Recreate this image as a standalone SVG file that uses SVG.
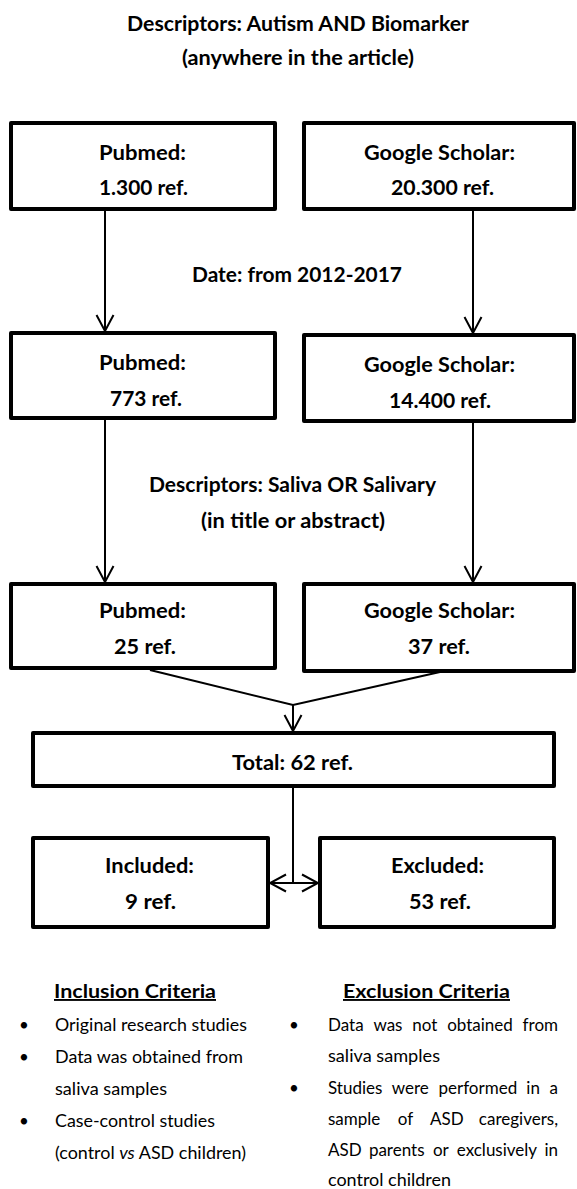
<svg xmlns="http://www.w3.org/2000/svg" width="577" height="1189" viewBox="0 0 577 1189">
<style>
.box{fill:#fff;stroke:#000;stroke-width:4;stroke-linejoin:round}
.b{font-family:Lato,"Liberation Sans",sans-serif;font-weight:bold;font-size:20px;fill:#000;text-anchor:middle}
.r{font-family:Lato,"Liberation Sans",sans-serif;font-size:17px;fill:#000}
.h{font-family:Lato,"Liberation Sans",sans-serif;font-weight:bold;font-size:19px;fill:#000;text-decoration:underline}
.c{fill:none;stroke:#000;stroke-width:2}
</style>
<defs>
<marker id="ah" viewBox="0 0 20 20" refX="18" refY="10" markerWidth="20" markerHeight="20" markerUnits="userSpaceOnUse" orient="auto-start-reverse">
<path d="M2,1.5 L18,10 L2,18.5" fill="none" stroke="#000" stroke-width="2"/>
</marker>
</defs>
<rect width="577" height="1189" fill="#fff"/>
<g id="title">
<text class="b" x="298" y="31" textLength="342" lengthAdjust="spacingAndGlyphs">Descriptors: Autism AND Biomarker</text>
<text class="b" x="298" y="65" textLength="232" lengthAdjust="spacingAndGlyphs">(anywhere in the article)</text>
</g>
<g id="connectors">
<line class="c" x1="105" y1="211" x2="105" y2="331" marker-end="url(#ah)"/>
<line class="c" x1="473" y1="210" x2="473" y2="333" marker-end="url(#ah)"/>
<line class="c" x1="105" y1="420" x2="105" y2="582" marker-end="url(#ah)"/>
<line class="c" x1="473" y1="423" x2="473" y2="582" marker-end="url(#ah)"/>
<polyline class="c" points="150,670 293,705 440,672"/>
<line class="c" x1="293" y1="705" x2="293" y2="731" marker-end="url(#ah)"/>
<line class="c" x1="293" y1="788" x2="293" y2="883"/>
<line class="c" x1="270" y1="883" x2="318" y2="883" marker-start="url(#ah)" marker-end="url(#ah)"/>
</g>
<g id="label-date">
<text class="b" x="297" y="282" textLength="210" lengthAdjust="spacingAndGlyphs">Date: from 2012-2017</text>
</g>
<g id="label-saliva">
<text class="b" x="292.5" y="492" textLength="287" lengthAdjust="spacingAndGlyphs">Descriptors: Saliva OR Salivary</text>
<text class="b" x="293" y="528" textLength="184" lengthAdjust="spacingAndGlyphs">(in title or abstract)</text>
</g>
<g id="pubmed1">
<rect class="box" x="11" y="123" width="264" height="86"/>
<text class="b" x="142.5" y="160" textLength="87" lengthAdjust="spacingAndGlyphs">Pubmed:</text>
<text class="b" x="143.5" y="195" textLength="89" lengthAdjust="spacingAndGlyphs">1.300 ref.</text>
</g>
<g id="scholar1">
<rect class="box" x="304" y="123" width="270" height="86"/>
<text class="b" x="439.5" y="160" textLength="151" lengthAdjust="spacingAndGlyphs">Google Scholar:</text>
<text class="b" x="442.5" y="195" textLength="103" lengthAdjust="spacingAndGlyphs">20.300 ref.</text>
</g>
<g id="pubmed2">
<rect class="box" x="11" y="333" width="264" height="85"/>
<text class="b" x="142.5" y="370" textLength="87" lengthAdjust="spacingAndGlyphs">Pubmed:</text>
<text class="b" x="146" y="406" textLength="72" lengthAdjust="spacingAndGlyphs">773 ref.</text>
</g>
<g id="scholar2">
<rect class="box" x="304" y="335" width="270" height="86"/>
<text class="b" x="439.5" y="372" textLength="151" lengthAdjust="spacingAndGlyphs">Google Scholar:</text>
<text class="b" x="440" y="408" textLength="102" lengthAdjust="spacingAndGlyphs">14.400 ref.</text>
</g>
<g id="pubmed3">
<rect class="box" x="11" y="584" width="264" height="84"/>
<text class="b" x="142.5" y="618" textLength="87" lengthAdjust="spacingAndGlyphs">Pubmed:</text>
<text class="b" x="145" y="654" textLength="62" lengthAdjust="spacingAndGlyphs">25 ref.</text>
</g>
<g id="scholar3">
<rect class="box" x="304" y="584" width="270" height="87"/>
<text class="b" x="439.5" y="618" textLength="151" lengthAdjust="spacingAndGlyphs">Google Scholar:</text>
<text class="b" x="439" y="654" textLength="62" lengthAdjust="spacingAndGlyphs">37 ref.</text>
</g>
<g id="total">
<rect class="box" x="33" y="733" width="521" height="53"/>
<text class="b" x="292.5" y="770" textLength="121" lengthAdjust="spacingAndGlyphs">Total: 62 ref.</text>
</g>
<g id="included">
<rect class="box" x="33" y="838" width="235" height="89"/>
<text class="b" x="149.5" y="873" textLength="89" lengthAdjust="spacingAndGlyphs">Included:</text>
<text class="b" x="150.5" y="909" textLength="51" lengthAdjust="spacingAndGlyphs">9 ref.</text>
</g>
<g id="excluded">
<rect class="box" x="320" y="838" width="234" height="89"/>
<text class="b" x="437.5" y="873" textLength="93" lengthAdjust="spacingAndGlyphs">Excluded:</text>
<text class="b" x="440" y="909" textLength="62" lengthAdjust="spacingAndGlyphs">53 ref.</text>
</g>
<g id="inclusion-criteria">
<text class="h" x="54" y="998" textLength="162" lengthAdjust="spacingAndGlyphs">Inclusion Criteria</text>
<text class="r" x="24" y="1031" text-anchor="middle">•</text>
<text class="r" x="55" y="1031" textLength="192" lengthAdjust="spacingAndGlyphs">Original research studies</text>
<text class="r" x="24" y="1063" text-anchor="middle">•</text>
<text class="r" x="55" y="1063" textLength="188" lengthAdjust="spacingAndGlyphs">Data was obtained from</text>
<text class="r" x="55" y="1095" textLength="112" lengthAdjust="spacingAndGlyphs">saliva samples</text>
<text class="r" x="24" y="1127" text-anchor="middle">•</text>
<text class="r" x="55" y="1127" textLength="160" lengthAdjust="spacingAndGlyphs">Case-control studies</text>
<text class="r" x="55" y="1159" textLength="191" lengthAdjust="spacingAndGlyphs">(control <tspan font-style="italic">vs</tspan> ASD children)</text>
</g>
<g id="exclusion-criteria">
<text class="h" x="343" y="998" textLength="167" lengthAdjust="spacingAndGlyphs">Exclusion Criteria</text>
<text class="r" x="294" y="1031" text-anchor="middle">•</text>
<text class="r" y="1031"><tspan x="328">Data</tspan><tspan x="373.4">was</tspan><tspan x="412.2">not</tspan><tspan x="447.2">obtained</tspan><tspan x="558" text-anchor="end">from</tspan></text>
<text class="r" x="328" y="1062" textLength="112" lengthAdjust="spacingAndGlyphs">saliva samples</text>
<text class="r" x="294" y="1094" text-anchor="middle">•</text>
<text class="r" y="1094"><tspan x="328">Studies</tspan><tspan x="391.8">were</tspan><tspan x="438.5">performed</tspan><tspan x="526.3">in</tspan><tspan x="558" text-anchor="end">a</tspan></text>
<text class="r" y="1125"><tspan x="328">sample</tspan><tspan x="397.8">of</tspan><tspan x="430.1">ASD</tspan><tspan x="558" text-anchor="end">caregivers,</tspan></text>
<text class="r" y="1156"><tspan x="328">ASD</tspan><tspan x="368.9">parents</tspan><tspan x="432.9">or</tspan><tspan x="456.8">exclusively</tspan><tspan x="558" text-anchor="end">in</tspan></text>
<text class="r" x="328" y="1186" textLength="123" lengthAdjust="spacingAndGlyphs">control children</text>
</g>
</svg>
